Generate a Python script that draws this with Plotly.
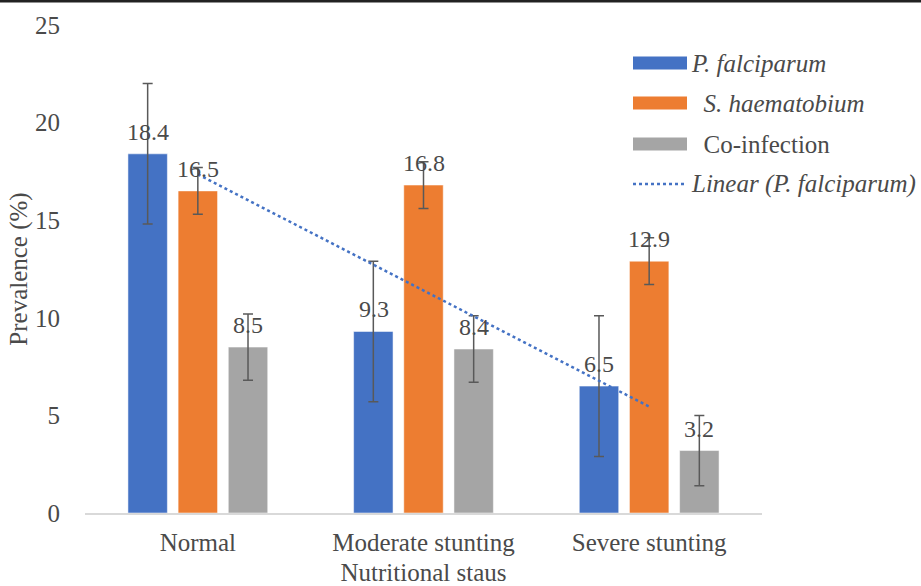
import numpy as np
import plotly.graph_objects as go

categories = ["Normal", "Moderate stunting", "Severe stunting"]
pf = [18.4, 9.3, 6.5]
sh = [16.5, 16.8, 12.9]
co = [8.5, 8.4, 3.2]
pf_err = [3.6, 3.6, 3.6]
sh_err = [1.2, 1.2, 1.2]
co_err = [1.7, 1.7, 1.8]
y_ticks = [0, 5, 10, 15, 20, 25]
legend_names = ["<i>P. falciparum</i>", "  <i>S. haematobium</i>", "  Co-infection",
                "<i>Linear (P. falciparum)</i>"]

FONT = "Liberation Serif"
FS = 25
TXT = "#4a4a4a"
ERR = "#595959"
COLORS = ["#4472C4", "#ED7D31", "#A5A5A5"]

# plot-area geometry (px)
L, R, T, B = 85, 159, 25, 73
W, H = 921, 586
PW, PH = W - L - R, H - T - B


def px2x(px):
    return (px - L) / PW


def px2y(py):
    return (H - B - py) / PH


fig = go.Figure()
series = [(pf, pf_err), (sh, sh_err), (co, co_err)]
for i, (vals, err) in enumerate(series):
    fig.add_trace(go.Bar(
        x=categories, y=vals, name=legend_names[i], showlegend=False,
        marker=dict(color=COLORS[i], line=dict(color="rgba(255,255,255,0.5)", width=1)),
        error_y=dict(type="data", array=err, color=ERR, thickness=1.5, width=5),
    ))

# linear trendline of P. falciparum
xi = np.arange(len(pf))
slope, inter = np.polyfit(xi, pf, 1)
trend = slope * xi + inter
fig.add_trace(go.Scatter(
    x=categories, y=trend, mode="lines", name=legend_names[3], showlegend=False,
    line=dict(color="#4472C4", width=2.5, dash="dot"),
))

# data labels
annotations = []
shifts = [-50, 0, 50]
for i, (vals, _) in enumerate(series):
    for c, v in zip(categories, vals):
        annotations.append(dict(x=c, y=v, xref="x", yref="y", text=f"{v}",
                                showarrow=False, xshift=shifts[i], yshift=7,
                                yanchor="bottom",
                                font=dict(family=FONT, size=24, color=TXT)))

# manual legend
shapes = []
rows = [63, 103, 144, 184]
for i, ry in enumerate(rows):
    if i < 3:
        shapes.append(dict(type="rect", xref="paper", yref="paper",
                           x0=px2x(633), x1=px2x(687), y0=px2y(ry + 6.5), y1=px2y(ry - 6.5),
                           fillcolor=COLORS[i], line=dict(width=0)))
    else:
        shapes.append(dict(type="line", xref="paper", yref="paper",
                           x0=px2x(633), x1=px2x(687), y0=px2y(ry), y1=px2y(ry),
                           line=dict(color="#4472C4", width=2.5, dash="dot")))
    annotations.append(dict(x=px2x(689), y=px2y(ry), xref="paper", yref="paper",
                            text=legend_names[i], showarrow=False, xanchor="left",
                            yanchor="middle",
                            font=dict(family=FONT, size=FS, color=TXT)))

# top border line
shapes.append(dict(type="line", xref="paper", yref="paper", x0=px2x(0), x1=px2x(W),
                   y0=px2y(1), y1=px2y(1), line=dict(color="#222222", width=3)))

fig.update_layout(
    width=W, height=H,
    margin=dict(l=L, r=R, t=T, b=B, autoexpand=False),
    paper_bgcolor="white", plot_bgcolor="white",
    barmode="group", bargap=0.333, bargroupgap=0.214,
    font=dict(family=FONT, size=FS, color=TXT),
    showlegend=False,
    xaxis=dict(showline=True, linecolor="#D9D9D9", linewidth=1.5, ticks="",
               ticklabelstandoff=6,
               tickfont=dict(family=FONT, size=FS, color=TXT),
               title=dict(text="Nutritional staus", font=dict(family=FONT, size=FS, color=TXT),
                          standoff=18)),
    yaxis=dict(range=[0, 25], tickvals=y_ticks, showgrid=False, zeroline=False,
               showline=False, ticks="", ticklabelstandoff=24,
               tickfont=dict(family=FONT, size=FS, color=TXT),
               title=dict(text="Prevalence (%)", font=dict(family=FONT, size=FS, color=TXT),
                          standoff=0)),
    shapes=shapes,
    annotations=annotations,
)

fig.write_html("out.html", config={"displayModeBar": False},
               post_script="document.body.style.margin='0';")
